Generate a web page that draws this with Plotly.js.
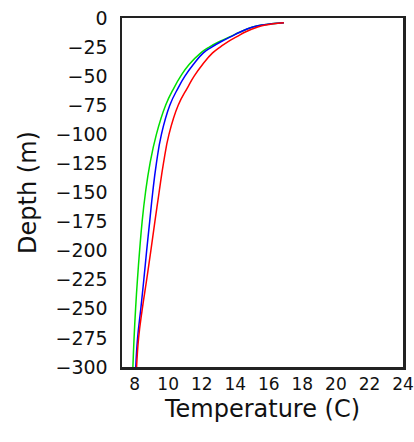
<!DOCTYPE html>
<html>
<head>
<meta charset="utf-8">
<script src="https://cdn.plot.ly/plotly-3.0.1.min.js"></script>
<style>html,body{margin:0;padding:0;background:#fff;}#chart{width:414px;height:442px;}</style>
</head>
<body>
<div id="chart"></div>
<script>
const depth = [-4, -6, -8, -12, -16, -20, -25, -30, -40, -50, -60, -75, -100, -125, -150, -175, -200, -225, -250, -275, -300];
const tempGreen = [16.9, 15.6, 15.0, 14.3, 13.7, 13.1, 12.45, 11.95, 11.25, 10.75, 10.35, 9.85, 9.3, 8.92, 8.65, 8.45, 8.3, 8.17, 8.06, 7.97, 7.9];
const tempBlue = [16.9, 15.6, 15.0, 14.3, 13.75, 13.2, 12.6, 12.1, 11.5, 11.0, 10.6, 10.1, 9.6, 9.3, 9.08, 8.9, 8.72, 8.55, 8.37, 8.18, 8.07];
const tempRed = [16.9, 15.8, 15.3, 14.6, 14.1, 13.6, 13.1, 12.65, 12.05, 11.55, 11.15, 10.6, 10.05, 9.72, 9.46, 9.21, 8.97, 8.72, 8.46, 8.24, 8.12];
const xTicks = [8, 10, 12, 14, 16, 18, 20, 22, 24];
const yTicks = [0, -25, -50, -75, -100, -125, -150, -175, -200, -225, -250, -275, -300];

const series = [
  {y: tempGreen, color: '#00e000'},
  {y: tempBlue, color: '#0000ff'},
  {y: tempRed, color: '#ff0000'}
];
const traces = series.map(s => ({
  x: s.y, y: depth, type: 'scatter', mode: 'lines',
  line: {color: s.color, width: 1.5, shape: 'spline', smoothing: 1.3},
  hoverinfo: 'skip', showlegend: false
}));

const layout = {
  width: 414, height: 442,
  margin: {l: 122, r: 11, t: 18, b: 75},
  paper_bgcolor: '#fff', plot_bgcolor: '#fff',
  font: {family: 'DejaVu Sans', size: 19, color: '#111'},
  xaxis: {
    range: [7.25, 24], tickvals: xTicks, ticktext: xTicks.map(String),
    showgrid: false, zeroline: false, showline: true, mirror: true,
    linecolor: '#222', linewidth: 2.5, ticks: '',
    tickfont: {family: 'DejaVu Sans', size: 17, color: '#111'},
    title: {text: 'Temperature (C)', font: {family: 'DejaVu Sans', size: 24, color: '#111'}, standoff: 8}
  },
  yaxis: {
    range: [-300, 0], tickvals: yTicks, ticktext: yTicks.map(v => v === 0 ? '0' : '\u2212' + Math.abs(v)),
    showgrid: false, zeroline: false, showline: true, mirror: true,
    linecolor: '#222', linewidth: 2.5, ticks: '', ticklabelstandoff: 8,
    tickfont: {family: 'DejaVu Sans', size: 19, color: '#111'},
    title: {text: 'Depth (m)', font: {family: 'DejaVu Sans', size: 24, color: '#111'}, standoff: 12}
  }
};
Plotly.newPlot('chart', traces, layout, {displayModeBar: false, staticPlot: true});
</script>
</body>
</html>
